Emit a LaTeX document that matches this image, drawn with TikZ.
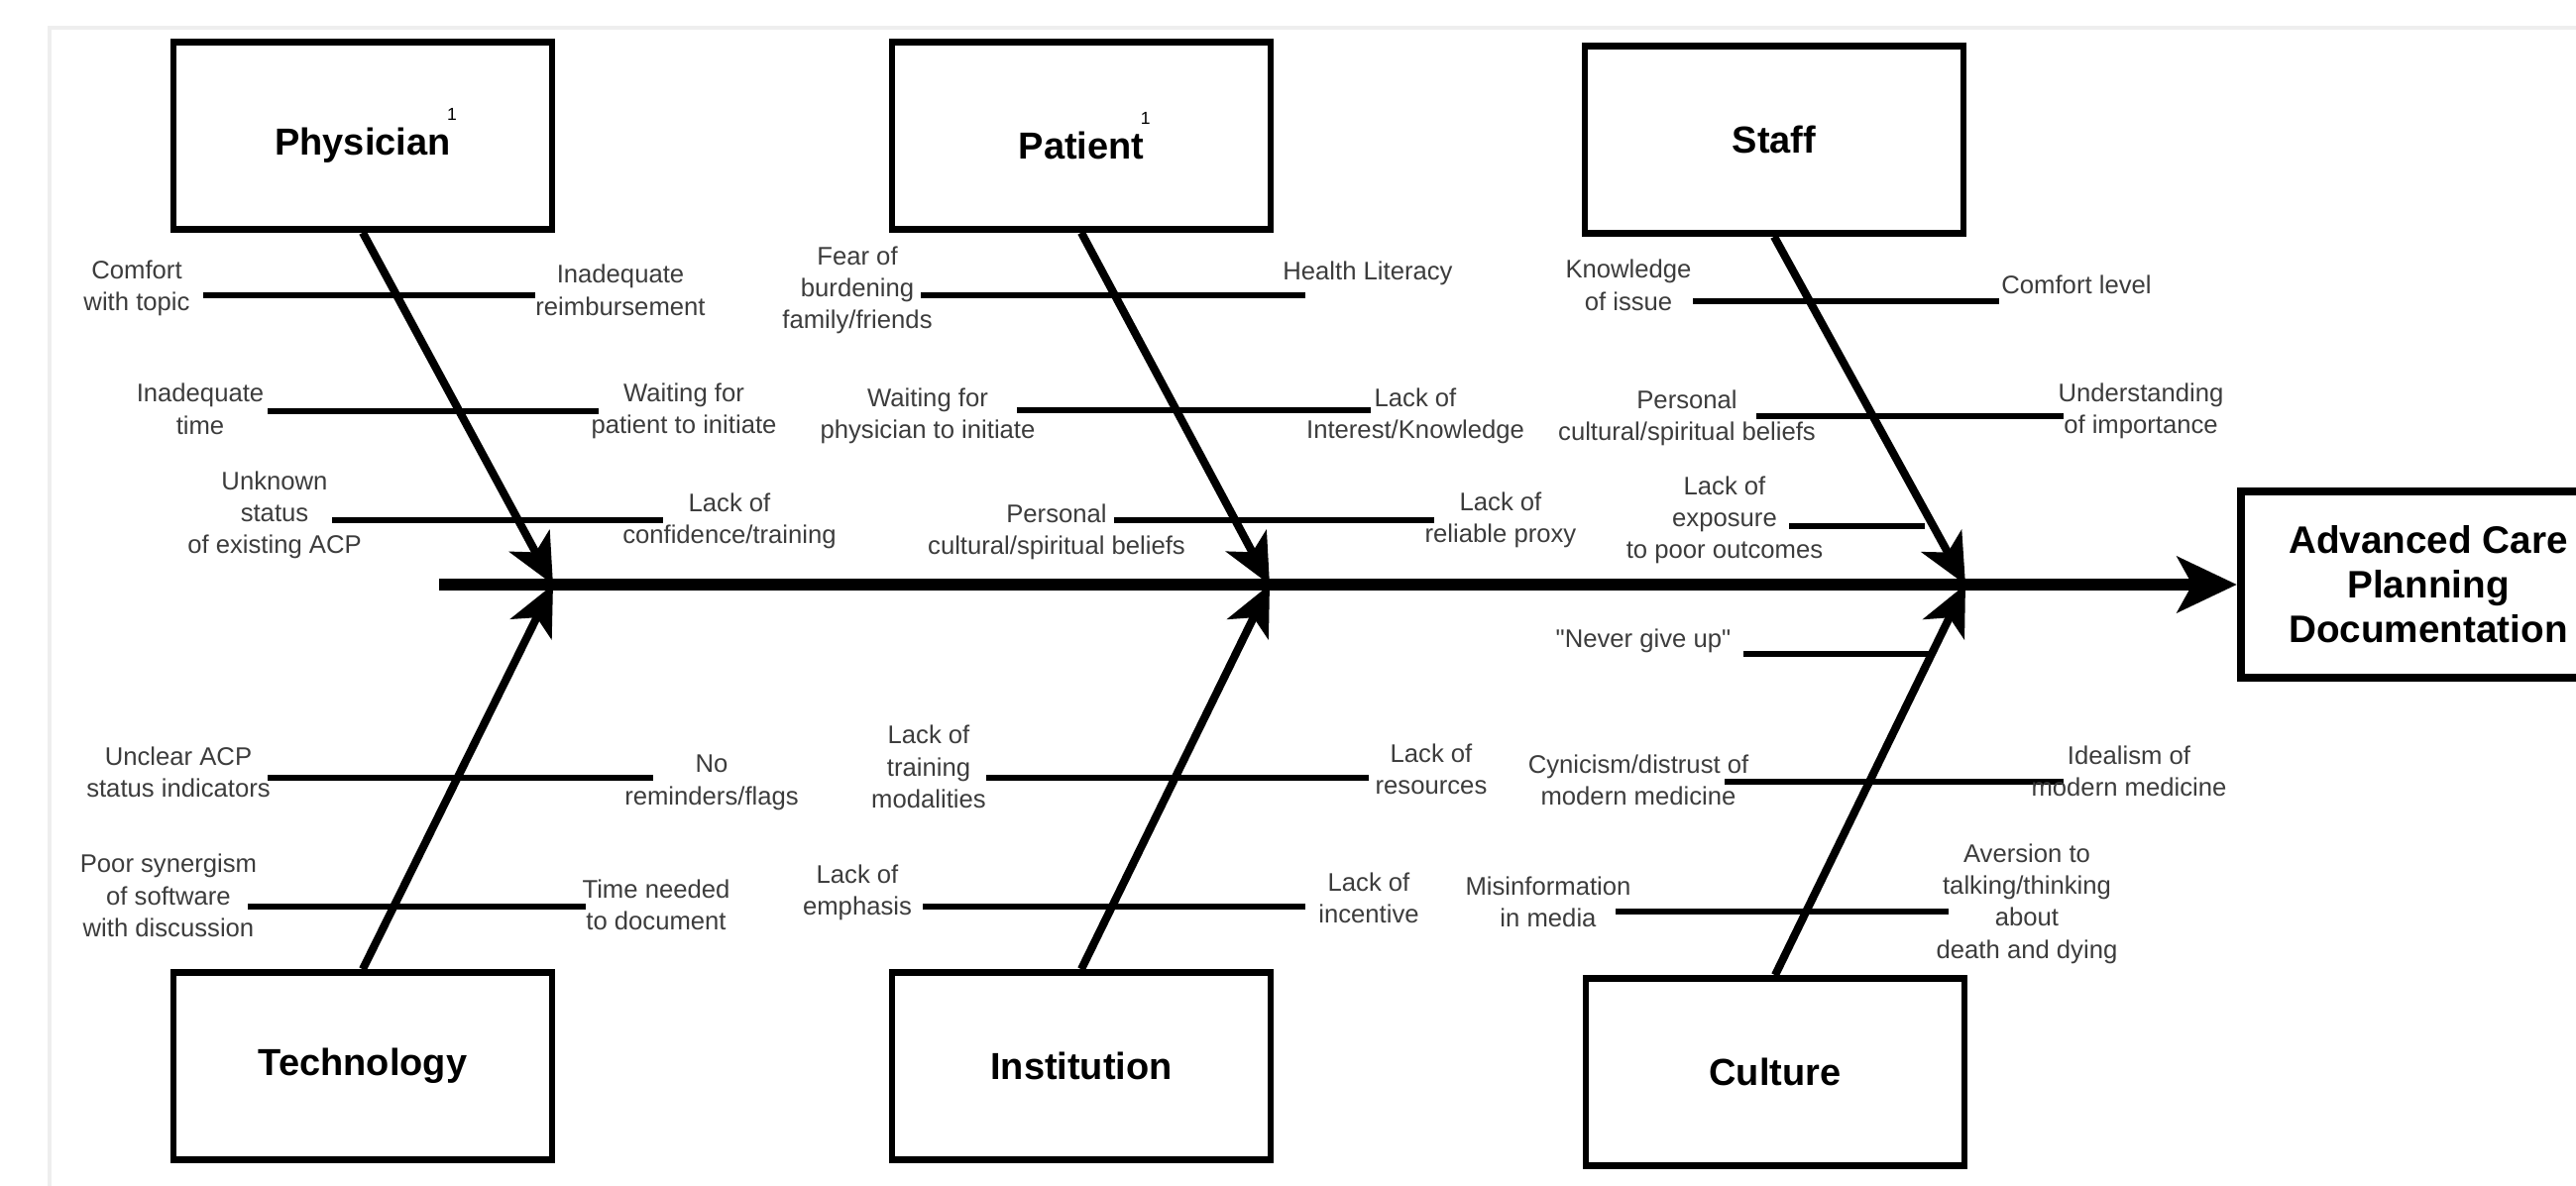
\documentclass[tikz,border=0pt]{standalone}
\usepackage{fontspec}
\setmainfont{Liberation Sans}[Ligatures=TeXOff]
\usetikzlibrary{arrows.meta}
\definecolor{labc}{HTML}{3C3C3C}
\definecolor{framec}{HTML}{EEEEEE}
\newcommand{\supone}{\rlap{\kern-1pt\raisebox{10pt}{\fontsize{5}{5}\selectfont\mdseries 1}}}

\begin{document}
\begin{tikzpicture}[
    x=0.01cm, y=-0.01cm,
    cause/.style={draw,line width=1.85pt,minimum width=3.82cm,minimum height=1.89cm,
      font=\bfseries\fontsize{10.8}{13}\selectfont},
    effect/.style={draw,line width=2.3pt,minimum width=3.78cm,minimum height=1.87cm,
      align=center,font=\bfseries\fontsize{11}{12.8}\selectfont},
    bone/.style={line width=2.3pt,-{Stealth[length=5mm,width=4.6mm,inset=1.3mm]}},
    rib/.style={line width=1.5pt},
    lbl/.style={align=center,text=labc,inner sep=0pt,font=\fontsize{7.3}{9.2}\selectfont},
  ]
\useasboundingbox (0,0) rectangle (2599,1197);

% faint frame of the screenshot
\draw[framec,line width=1pt] (50,1197) -- (50,28) -- (2599,28);

% ======================= HEAD + BACKBONE =======================
\node[effect] (acp) at (2450,590) {Advanced Care\\Planning\\Documentation};
\coordinate (tail) at (443,590);
\coordinate (j1) at (558,590);
\coordinate (j2) at (1281,590);
\coordinate (j3) at (1983,590);
\draw[line width=3.6pt,-{Stealth[length=6mm,width=5.6mm,inset=1.5mm]}] (tail) -- (acp);

% ======================= PHYSICIAN =======================
\node[cause] (phys) at (366,137) {Physician\supone};
\coordinate (p1a) at (205,298); \coordinate (p1b) at (540,298);
\coordinate (p2a) at (270,415); \coordinate (p2b) at (604,415);
\coordinate (p3a) at (335,525); \coordinate (p3b) at (669,525);
\draw[rib] (p1a) -- (p1b);
\draw[rib] (p2a) -- (p2b);
\draw[rib] (p3a) -- (p3b);
\node[lbl] (p1l) at (138,291) {Comfort\\with topic};
\node[lbl] (p1r) at (626,293) {Inadequate\\reimbursement};
\node[lbl] (p2l) at (202,413) {Inadequate\\time};
\node[lbl] (p2r) at (690,415) {Waiting for\\patient to initiate};
\node[lbl] (p3l) at (277,520) {Unknown\\status\\of existing ACP};
\node[lbl] (p3r) at (736,526) {Lack of\\confidence/training};
\draw[bone] (phys.south) -- (j1);

% ======================= PATIENT =======================
\node[cause] (pat) at (1091,137) {Patient\supone};
\coordinate (q1a) at (929,298);  \coordinate (q1b) at (1317,298);
\coordinate (q2a) at (1026,414); \coordinate (q2b) at (1383,414);
\coordinate (q3a) at (1124,525); \coordinate (q3b) at (1447,525);
\draw[rib] (q1a) -- (q1b);
\draw[rib] (q2a) -- (q2b);
\draw[rib] (q3a) -- (q3b);
\node[lbl] (q1l) at (865,293) {Fear of\\burdening\\family/friends};
\node[lbl] (q1r) at (1380,276) {Health Literacy};
\node[lbl] (q2l) at (936,420) {Waiting for\\physician to initiate};
\node[lbl] (q2r) at (1428,420) {Lack of\\Interest/Knowledge};
\node[lbl] (q3l) at (1066,537) {Personal\\cultural/spiritual beliefs};
\node[lbl] (q3r) at (1514,525) {Lack of\\reliable proxy};
\draw[bone] (pat.south) -- (j2);

% ======================= STAFF =======================
\node[cause] (staff) at (1790,141) {Staff};
\coordinate (s1a) at (1708,304); \coordinate (s1b) at (2017,304);
\coordinate (s2a) at (1772,420); \coordinate (s2b) at (2082,420);
\coordinate (s3a) at (1805,531); \coordinate (s3b) at (1942,531);
\draw[rib] (s1a) -- (s1b);
\draw[rib] (s2a) -- (s2b);
\draw[rib] (s3a) -- (s3b);
\node[lbl] (s1l) at (1643,288) {Knowledge\\of issue};
\node[lbl] (s1r) at (2095,287) {Comfort level};
\node[lbl] (s2l) at (1702,422) {Personal\\cultural/spiritual beliefs};
\node[lbl] (s2r) at (2160,415) {Understanding\\of importance};
\node[lbl] (s3l) at (1740,525) {Lack of\\exposure\\to poor outcomes};
\draw[bone] (staff.south) -- (j3);

% ======================= TECHNOLOGY =======================
\node[cause] (tech) at (366,1076) {Technology};
\coordinate (t1a) at (270,785); \coordinate (t1b) at (659,785);
\coordinate (t2a) at (250,915); \coordinate (t2b) at (591,915);
\draw[rib] (t1a) -- (t1b);
\draw[rib] (t2a) -- (t2b);
\node[lbl] (t1l) at (180,779) {Unclear ACP\\status indicators};
\node[lbl] (t1r) at (718,790) {No\\reminders/flags};
\node[lbl] (t2l) at (170,904) {Poor synergism\\of software\\with discussion};
\node[lbl] (t2r) at (662,913) {Time needed\\to document};
\draw[bone] (tech.north) -- (j1);

% ======================= INSTITUTION =======================
\node[cause] (inst) at (1091,1076) {Institution};
\coordinate (i1a) at (995,785); \coordinate (i1b) at (1381,785);
\coordinate (i2a) at (931,915); \coordinate (i2b) at (1317,915);
\draw[rib] (i1a) -- (i1b);
\draw[rib] (i2a) -- (i2b);
\node[lbl] (i1l) at (937,774) {Lack of\\training\\modalities};
\node[lbl] (i1r) at (1444,776) {Lack of\\resources};
\node[lbl] (i2l) at (865,901) {Lack of\\emphasis};
\node[lbl] (i2r) at (1381,906) {Lack of\\incentive};
\draw[bone] (inst.north) -- (j2);

% ======================= CULTURE =======================
\node[cause] (cult) at (1791,1082) {Culture};
\coordinate (c1a) at (1759,660); \coordinate (c1b) at (1949,660);
\coordinate (c2a) at (1740,789); \coordinate (c2b) at (2082,789);
\coordinate (c3a) at (1630,920); \coordinate (c3b) at (1966,920);
\draw[rib] (c1a) -- (c1b);
\draw[rib] (c2a) -- (c2b);
\draw[rib] (c3a) -- (c3b);
\node[lbl] (c1l) at (1658,647) {"Never give up"};
\node[lbl] (c2l) at (1653,787) {Cynicism/distrust of\\modern medicine};
\node[lbl] (c2r) at (2148,778) {Idealism of\\modern medicine};
\node[lbl] (c3l) at (1562,910) {Misinformation\\in media};
\node[lbl] (c3r) at (2045,912) {Aversion to\\talking/thinking\\about\\death and dying};
\draw[bone] (cult.north) -- (j3);

\end{tikzpicture}
\end{document}
